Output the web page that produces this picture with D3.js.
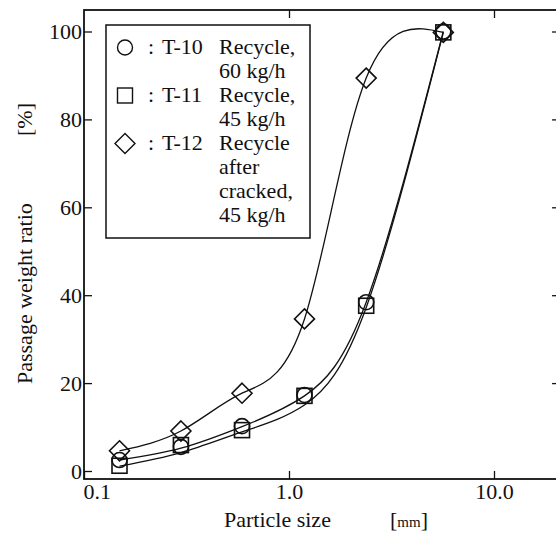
<!DOCTYPE html>
<html><head><meta charset="utf-8">
<script src="https://cdn.jsdelivr.net/npm/d3@7"></script>
</head>
<body style="margin:0;background:#fff"><svg id="c" width="556" height="536" style="display:block;font-family:'Liberation Serif';font-size:22px"></svg>
<script>
// ---- data ----
const sizes = [0.149, 0.297, 0.59, 1.19, 2.38, 5.66];          // particle size [mm]
const t10 = [2.5, 5.5, 10.2, 17.3, 38.4, 100];                  // circles
const t11 = [1.2, 5.9, 9.3, 17.1, 37.6, 99.8];                  // squares
const t12 = [4.6, 9.1, 17.7, 34.6, 89.4, 99.8];                 // diamonds
// smoothed curves as drawn in the figure
const fitT10 = [2.5, 5.2, 10.1, 17.1, 38.4, 100];
const fitT11 = [1.1, 4.2, 8.9, 15.0, 37.2, 99.8];
const fitT12 = [4.6, 9.1, 17.7, 34.6, 89.4, 99.8];
const xTicks = [0.1, 1, 10];
const xTickLabels = ["0.1", "1.0", "10.0"];
const yTicks = [0, 20, 40, 60, 80, 100];
const legendItems = [
  {shape: "circle", code: "T-10", lines: ["Recycle,", "60 kg/h"]},
  {shape: "square", code: "T-11", lines: ["Recycle,", "45 kg/h"]},
  {shape: "diamond", code: "T-12", lines: ["Recycle", "after", "cracked,", "45 kg/h"]}
];

const svg = d3.select("#c");
const L = 84, T = 10, B = 479, dec = 205;
const xMax = 21;
const x = d3.scaleLog().domain([0.1, xMax]).range([L, L + dec * Math.log10(xMax / 0.1)]);
const y = d3.scaleLinear().domain([0, 100]).range([471, 31.5]);
const R = x.range()[1];
function txt(sel) {
  return sel.attr("font-family", "Liberation Serif").attr("font-size", 22)
    .style("font-family", '"Liberation Serif"').style("font-size", "22px").attr("fill", "#111");
}

// frame
svg.append("rect").attr("x", L).attr("y", T).attr("width", R - L).attr("height", B - T)
  .attr("fill", "none").attr("stroke", "#111").attr("stroke-width", 1.8);

// axes
function styleAxis(g) {
  g.attr("font-family", "Liberation Serif").attr("font-size", 22);
  g.select(".domain").remove();
  g.selectAll("line").attr("stroke", "#111").attr("stroke-width", 1.3);
  txt(g.selectAll("text"));
}
const ax = svg.append("g").attr("transform", `translate(0,${B})`)
  .call(d3.axisBottom(x).tickValues(xTicks).tickSizeInner(-8).tickSizeOuter(0).tickPadding(4)
    .tickFormat((d, i) => xTickLabels[i]));
styleAxis(ax);
ax.selectAll("text").filter((d, i) => i === 0).attr("text-anchor", "start").attr("x", -1);

const axT = svg.append("g").attr("transform", `translate(0,${T})`)
  .call(d3.axisTop(x).tickValues(xTicks.slice(1)).tickSizeInner(-8).tickSizeOuter(0).tickFormat(""));
styleAxis(axT);

const ay = svg.append("g").attr("transform", `translate(${L},0)`)
  .call(d3.axisLeft(y).tickValues(yTicks).tickSizeInner(-8).tickSizeOuter(0).tickPadding(2)
    .tickFormat(d3.format("d")));
styleAxis(ay);

const ayR = svg.append("g").attr("transform", `translate(${R},0)`)
  .call(d3.axisRight(y).tickValues(yTicks.slice(1)).tickSizeInner(-8).tickSizeOuter(0).tickFormat(""));
styleAxis(ayR);

// axis titles
txt(svg.append("text").attr("x", 224).attr("y", 527)).text("Particle size");
const mmT = txt(svg.append("text").attr("x", 390).attr("y", 527));
mmT.append("tspan").text("[");
mmT.append("tspan").attr("font-size", 15).style("font-size", "15px").text("mm");
mmT.append("tspan").text("]");
txt(svg.append("text").attr("transform", "translate(32,384) rotate(-90)")).text("Passage weight ratio");
txt(svg.append("text").attr("transform", "translate(32,136) rotate(-90)")).text("[%]");

// curves
const line = d3.line().x((d, i) => x(sizes[i])).y(d => y(d)).curve(d3.curveNatural);
[fitT10, fitT11, fitT12].forEach(s => {
  svg.append("path").attr("d", line(s)).attr("fill", "none").attr("stroke", "#111").attr("stroke-width", 1.3);
});

// markers
function marker(g, shape, cx, cy) {
  if (shape === "circle") {
    g.append("circle").attr("cx", cx).attr("cy", cy).attr("r", 7.5);
  } else if (shape === "square") {
    g.append("rect").attr("x", cx - 7.5).attr("y", cy - 7.5).attr("width", 15).attr("height", 15);
  } else {
    const r = 10;
    g.append("path").attr("d", `M${cx},${cy - r}L${cx + r},${cy}L${cx},${cy + r}L${cx - r},${cy}Z`);
  }
}
const mg = svg.append("g").attr("fill", "none").attr("stroke", "#111").attr("stroke-width", 1.6);
[[t10, "circle"], [t11, "square"], [t12, "diamond"]].forEach(([s, shape]) => {
  s.forEach((v, i) => marker(mg, shape, x(sizes[i]), y(v)));
});

// legend
svg.append("rect").attr("x", 106).attr("y", 25).attr("width", 204).attr("height", 213)
  .attr("fill", "#fff").attr("stroke", "#111").attr("stroke-width", 1.5);
const lg = svg.append("g");
const lm = lg.append("g").attr("fill", "none").attr("stroke", "#111").attr("stroke-width", 1.4);
let base = 54;
const step = 24;
legendItems.forEach(it => {
  marker(lm, it.shape, 125, base - 6.5);
  txt(lg.append("text").attr("x", 148).attr("y", base)).text(":");
  txt(lg.append("text").attr("x", 162).attr("y", base)).text(it.code);
  it.lines.forEach((t, j) => {
    txt(lg.append("text").attr("x", 219).attr("y", base + j * step)).text(t);
  });
  base += it.lines.length * step;
});
</script></body></html>
